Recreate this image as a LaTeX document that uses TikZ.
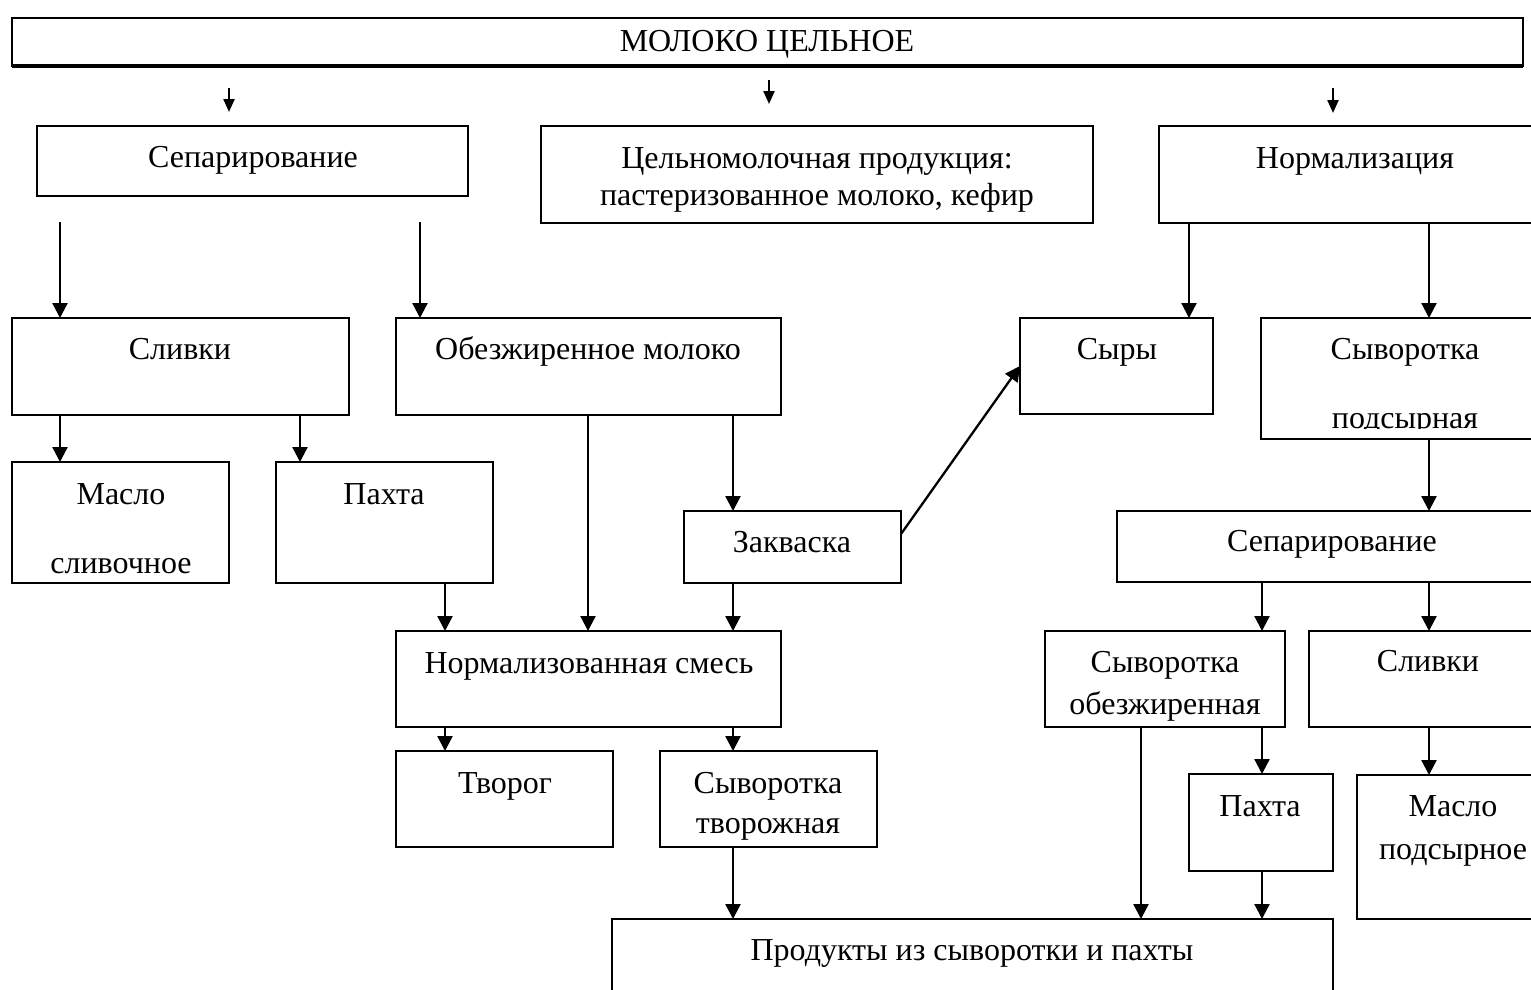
\documentclass[tikz,border=0pt]{standalone}
\usepackage{fontspec}
\setmainfont{Liberation Serif}
\usetikzlibrary{arrows.meta,calc}
\tikzset{
  boxs/.style={draw=black, line width=2pt, inner sep=0pt, outer sep=0pt, rectangle},
  txt/.style={anchor=base, inner sep=0pt, font=\fontsize{32}{38}\selectfont},
  arr/.style={line width=2.3pt, -{Triangle[width=15pt,length=15pt]}},
  arrs/.style={line width=2.3pt, -{Triangle[width=11pt,length=13pt]}}
}
\newcommand{\mkbox}[5]{\node[boxs, minimum width={#3-#1}, minimum height={#4-#2}] (#5) at ({(#1+#3)/2},{(#2+#4)/2}) {};}
\begin{document}
\begin{tikzpicture}[x=1pt,y=-1pt]
\useasboundingbox (0,0) rectangle (1531,989);
\clip (0,0) rectangle (1531,989);
% boxes
\mkbox{12}{18}{1523}{66}{milk}
\mkbox{37}{126}{468}{196}{sepL}
\mkbox{541}{126}{1093}{223}{whole}
\mkbox{1159}{126}{1545}{223}{normR}
\mkbox{12}{318}{349}{415}{slivL}
\mkbox{396}{318}{781}{415}{obez}
\mkbox{1020}{318}{1213}{414}{syry}
\mkbox{1261}{318}{1545}{439}{syvP}
\mkbox{12}{462}{229}{583}{masloS}
\mkbox{276}{462}{493}{583}{pakhL}
\mkbox{684}{511}{901}{583}{zakv}
\mkbox{1117}{511}{1545}{582}{sepR}
\mkbox{396}{631}{781}{727}{nsm}
\mkbox{1045}{631}{1285}{727}{syvO}
\mkbox{1309}{631}{1545}{727}{slivR}
\mkbox{396}{751}{613}{847}{tvor}
\mkbox{660}{751}{877}{847}{syvT}
\mkbox{1189}{774}{1333}{871}{pakhR}
\mkbox{1357}{775}{1545}{919}{masloP}
\mkbox{612}{919}{1333}{1010}{prod}
\draw[line width=3.5pt] (milk.south west) -- (milk.south east);
% texts
\node[txt] (tmilk) at (767,51) {МОЛОКО ЦЕЛЬНОЕ};
\node[txt] (tsepL) at (253,167) {Сепарирование};
\node[txt] (twhole1) at (817,168) {Цельномолочная продукция:};
\node[txt] (twhole2) at (817,205) {пастеризованное молоко, кефир};
\node[txt] (tnormR) at (1355,168) {Нормализация};
\node[txt] (tslivL) at (180,359) {Сливки};
\node[txt] (tobez) at (588,359) {Обезжиренное молоко};
\node[txt] (tsyry) at (1117,359) {Сыры};
\node[txt] (tsyvP1) at (1405,359) {Сыворотка};
\begin{scope}
\clip (1261,318) rectangle (1545,428);
\node[txt] (tsyvP2) at (1405,428) {подсырная};
\end{scope}
\node[txt] (tmasloS1) at (121,504) {Масло};
\node[txt] (tmasloS2) at (121,573) {сливочное};
\node[txt] (tpakhL) at (384,504) {Пахта};
\node[txt] (tzakv) at (792,552) {Закваска};
\node[txt] (tsepR) at (1332,551) {Сепарирование};
\node[txt] (tnsm) at (589,673) {Нормализованная смесь};
\node[txt] (tsyvO1) at (1165,672) {Сыворотка};
\node[txt] (tsyvO2) at (1165,714) {обезжиренная};
\node[txt] (tslivR) at (1428,671) {Сливки};
\node[txt] (ttvor) at (505,793) {Творог};
\node[txt] (tsyvT1) at (768,793) {Сыворотка};
\node[txt] (tsyvT2) at (768,833) {творожная};
\node[txt] (tpakhR) at (1260,816) {Пахта};
\node[txt] (tmasloP1) at (1453,816) {Масло};
\node[txt] (tmasloP2) at (1453,859) {подсырное};
\node[txt] (tprod) at (972,960) {Продукты из сыворотки и пахты};
% arrows from top
\draw[arrs] ($(milk.south -| 229,0)+(0,22)$) -- ++(0,24);
\draw[arrs] ($(milk.south -| 769,0)+(0,14)$) -- ++(0,24);
\draw[arrs] ($(milk.south -| 1333,0)+(0,22)$) -- ++(0,25);
% connectors
\draw[arr] ($(sepL.south -| 60,0)+(0,26)$) -- (slivL.north -| 60,0);
\draw[arr] ($(sepL.south -| 420,0)+(0,26)$) -- (obez.north -| 420,0);
\draw[arr] (normR.south -| 1189,0) -- (syry.north -| 1189,0);
\draw[arr] (normR.south -| 1429,0) -- (syvP.north -| 1429,0);
\draw[arr] (slivL.south -| 60,0) -- (masloS.north -| 60,0);
\draw[arr] (slivL.south -| 300,0) -- (pakhL.north -| 300,0);
\draw[arr] (obez.south -| 588,0) -- (nsm.north -| 588,0);
\draw[arr] (obez.south -| 733,0) -- (zakv.north -| 733,0);
\draw[arr] (pakhL.south -| 445,0) -- (nsm.north -| 445,0);
\draw[arr] (zakv.south -| 733,0) -- (nsm.north -| 733,0);
\draw[arr] (zakv.east |- 0,534) -- (syry.west |- 0,366);
\draw[arr] (nsm.south -| 445,0) -- (tvor.north -| 445,0);
\draw[arr] (nsm.south -| 733,0) -- (syvT.north -| 733,0);
\draw[arr] (syvT.south -| 733,0) -- (prod.north -| 733,0);
\draw[arr] (syvP.south -| 1429,0) -- (sepR.north -| 1429,0);
\draw[arr] (sepR.south -| 1262,0) -- (syvO.north -| 1262,0);
\draw[arr] (sepR.south -| 1429,0) -- (slivR.north -| 1429,0);
\draw[arr] (syvO.south -| 1141,0) -- (prod.north -| 1141,0);
\draw[arr] (syvO.south -| 1262,0) -- (pakhR.north -| 1262,0);
\draw[arr] (pakhR.south -| 1262,0) -- (prod.north -| 1262,0);
\draw[arr] (slivR.south -| 1429,0) -- (masloP.north -| 1429,0);
\end{tikzpicture}
\end{document}
